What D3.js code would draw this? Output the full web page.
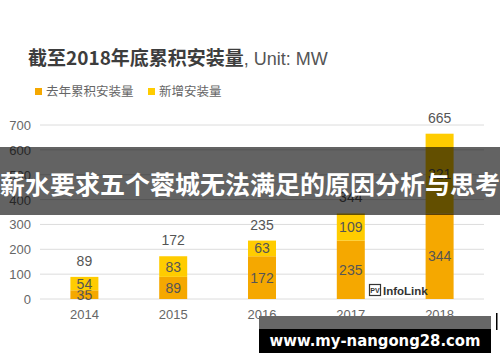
<!DOCTYPE html>
<html>
<head>
<meta charset="utf-8">
<script src="https://cdn.jsdelivr.net/npm/d3@7"></script>
<style>
  body { margin: 0; background: #fff; }
  svg { display: block; }
</style>
</head>
<body>
<div class="chart"></div>
<script>
// data
var years = ["2014", "2015", "2016", "2017", "2018"];
var prevTotal = [35, 89, 172, 235, 344];   // 去年累积安装量
var added = [54, 83, 63, 109, 321];        // 新增安装量
var yTicks = [0, 100, 200, 300, 400, 500, 600, 700];
var seriesNames = ["去年累积安装量", "新增安装量"];
var colors = ["#f5a800", "#ffcc00"];

var width = 500, height = 362;
var cjk = "'Noto Sans CJK SC', sans-serif";
var latin = "'Liberation Sans', Arial, sans-serif";

var svg = d3.select("div.chart").append("svg")
    .attr("width", width)
    .attr("height", height);

var xScale = d3.scalePoint().domain(years).range([40, 484]).padding(0.5);
var yScale = d3.scaleLinear().domain([0, 700]).range([299, 125]);
var barW = 28;

// title
var title = svg.append("text")
    .attr("x", 28)
    .attr("y", 65);
title.append("tspan")
    .style("font-family", cjk)
    .style("font-size", "19px")
    .style("font-weight", "bold")
    .attr("fill", "#3d3d3d")
    .text("截至2018年底累积安装量");
title.append("tspan")
    .style("font-family", latin)
    .style("font-size", "18px")
    .attr("fill", "#555")
    .text(", Unit: MW");

// legend
var legendX = [35, 148];
seriesNames.forEach(function(name, i) {
    svg.append("rect")
        .attr("x", legendX[i])
        .attr("y", 88)
        .attr("width", 7)
        .attr("height", 7)
        .attr("fill", colors[i]);
    svg.append("text")
        .attr("x", legendX[i] + 11)
        .attr("y", 96)
        .style("font-family", cjk)
        .style("font-size", "12.5px")
        .attr("fill", "#666")
        .text(name);
});

// grid + y labels
svg.append("g").selectAll("line")
    .data(yTicks)
    .enter().append("line")
    .attr("x1", 40)
    .attr("x2", 484)
    .attr("y1", function(d) { return yScale(d); })
    .attr("y2", function(d) { return yScale(d); })
    .attr("stroke", "#dcdcdc")
    .attr("stroke-width", 1);

svg.append("g").selectAll("text")
    .data(yTicks)
    .enter().append("text")
    .attr("x", 31)
    .attr("y", function(d) { return yScale(d) + 5; })
    .attr("text-anchor", "end")
    .style("font-family", latin)
    .style("font-size", "13px")
    .attr("fill", "#666")
    .text(function(d) { return d; });

// x labels
svg.append("g").selectAll("text")
    .data(years)
    .enter().append("text")
    .attr("x", function(d) { return xScale(d); })
    .attr("y", 319)
    .attr("text-anchor", "middle")
    .style("font-family", latin)
    .style("font-size", "13px")
    .attr("fill", "#666")
    .text(function(d) { return d; });

// stacked bars
var rows = years.map(function(y, i) {
    return { year: y, prev: prevTotal[i], added: added[i] };
});
var stack = d3.stack().keys(["prev", "added"]);
var layers = stack(rows);

layers.forEach(function(layer, li) {
    var g = svg.append("g");
    g.selectAll("rect")
        .data(layer)
        .enter().append("rect")
        .attr("x", function(d) { return xScale(d.data.year) - barW / 2; })
        .attr("y", function(d) { return yScale(d[1]); })
        .attr("width", barW)
        .attr("height", function(d) { return yScale(d[0]) - yScale(d[1]); })
        .attr("fill", colors[li]);
    g.selectAll("text")
        .data(layer)
        .enter().append("text")
        .attr("x", function(d) { return xScale(d.data.year); })
        .attr("y", function(d) { return (yScale(d[0]) + yScale(d[1])) / 2 + 5; })
        .attr("text-anchor", "middle")
        .style("font-family", latin)
        .style("font-size", "14px")
        .attr("fill", "#555")
        .text(function(d) { return d[1] - d[0]; });
});

// totals
svg.append("g").selectAll("text")
    .data(rows)
    .enter().append("text")
    .attr("x", function(d) { return xScale(d.year); })
    .attr("y", function(d) { return yScale(d.prev + d.added) - 11; })
    .attr("text-anchor", "middle")
    .style("font-family", latin)
    .style("font-size", "14px")
    .attr("fill", "#555")
    .text(function(d) { return d.prev + d.added; });

// PV InfoLink logo
svg.append("rect")
    .attr("x", 369.5).attr("y", 284.5)
    .attr("width", 11).attr("height", 11)
    .attr("fill", "#fff")
    .attr("stroke", "#333").attr("stroke-width", 1.2);
svg.append("text")
    .attr("x", 375).attr("y", 293)
    .attr("text-anchor", "middle")
    .style("font-family", latin)
    .style("font-size", "7px")
    .style("font-weight", "bold")
    .attr("fill", "#333")
    .text("PV");
svg.append("text")
    .attr("x", 383).attr("y", 295)
    .style("font-family", latin)
    .style("font-size", "11.5px")
    .style("font-weight", "bold")
    .attr("fill", "#333")
    .text("InfoLink");

// overlay banner
svg.append("rect")
    .attr("x", 0).attr("y", 147)
    .attr("width", width).attr("height", 68)
    .attr("fill", "rgba(0,0,0,0.61)");
svg.append("text")
    .attr("x", width / 2)
    .attr("y", 194)
    .attr("text-anchor", "middle")
    .attr("textLength", 500)
    .attr("lengthAdjust", "spacingAndGlyphs")
    .style("font-family", cjk)
    .style("font-size", "25px")
    .style("font-weight", "bold")
    .attr("fill", "#fff")
    .text("薪水要求五个蓉城无法满足的原因分析与思考");

// watermark
svg.append("rect")
    .attr("x", 259).attr("y", 316)
    .attr("width", 232).attr("height", 13)
    .attr("fill", "#676767");
svg.append("rect")
    .attr("x", 259).attr("y", 329)
    .attr("width", 232).attr("height", 24)
    .attr("fill", "#000");
svg.append("rect")
    .attr("x", 496).attr("y", 313)
    .attr("width", 1.5).attr("height", 17)
    .attr("fill", "#000");
svg.append("text")
    .attr("x", 375)
    .attr("y", 346)
    .attr("text-anchor", "middle")
    .attr("textLength", 211)
    .attr("lengthAdjust", "spacingAndGlyphs")
    .style("font-family", "'DejaVu Sans', sans-serif")
    .style("font-size", "16px")
    .style("font-weight", "bold")
    .attr("fill", "#fff")
    .text("www.my-nangong28.com");
</script>
</body>
</html>
